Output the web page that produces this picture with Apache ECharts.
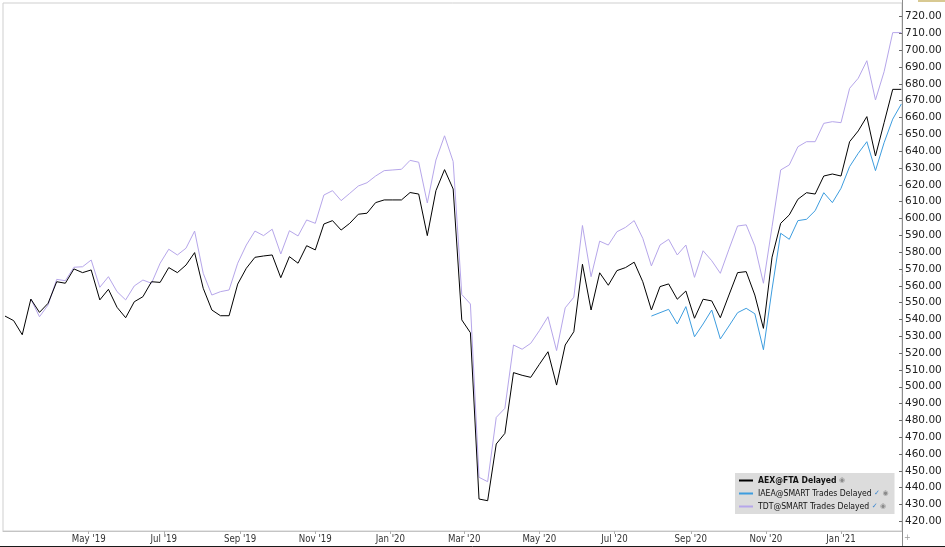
<!DOCTYPE html>
<html>
<head>
<meta charset="utf-8">
<script src="https://cdn.jsdelivr.net/npm/echarts@6/dist/echarts.min.js"></script>
<style>
html,body{margin:0;padding:0;background:#fff;}
#chart{width:945px;height:547px;}
</style>
</head>
<body>
<div id="chart"></div>
<script>
// Weekly closes (Fridays), starting 22 Feb 2019
const startDate = Date.UTC(2019, 1, 22);
const WEEK = 7 * 86400000;

const seriesNames = ['AEX@FTA Delayed', 'IAEA@SMART Trades Delayed', 'TDT@SMART Trades Delayed'];

const aexValues = [
  542.0, 539.3, 530.9, 552.1, 544.2, 549.6, 562.4, 561.5, 570.0, 567.8,
  569.4, 551.6, 557.9, 547.2, 541.0, 550.5, 553.5, 562.4, 562.0, 570.8,
  567.8, 572.3, 579.7, 558.5, 545.6, 542.2, 542.2, 561.0, 570.4, 576.9,
  577.7, 578.3, 564.8, 577.3, 573.4, 583.8, 581.3, 596.7, 598.7, 593.1,
  597.1, 602.5, 603.1, 609.4, 611.0, 611.0, 611.0, 615.4, 614.5, 589.8,
  616.5, 629.0, 617.5, 539.7, 532.1, 433.3, 432.3, 466.0, 472.3, 508.4,
  506.8, 505.6, 513.3, 520.8, 501.0, 524.8, 532.7, 572.8, 545.6, 567.7,
  560.3, 569.0, 570.8, 574.0, 562.4, 545.6, 559.5, 561.1, 552.0, 556.9,
  540.7, 552.0, 551.0, 541.0, 554.5, 567.8, 568.4, 554.5, 534.7, 577.0,
  597.1, 602.1, 611.4, 615.3, 614.5, 625.2, 626.4, 625.2, 645.6, 652.0,
  660.5, 637.1, 656.9, 676.7, 676.7
];

const iaeaValues = [
  null, null, null, null, null, null, null, null, null, null,
  null, null, null, null, null, null, null, null, null, null,
  null, null, null, null, null, null, null, null, null, null,
  null, null, null, null, null, null, null, null, null, null,
  null, null, null, null, null, null, null, null, null, null,
  null, null, null, null, null, null, null, null, null, null,
  null, null, null, null, null, null, null, null, null, null,
  null, null, null, null, null, 542.0, 544.0, 546.0, 537.3, 547.6,
  529.7, 537.3, 545.6, 528.4, 536.1, 544.0, 546.6, 543.4, 522.0, 558.0,
  591.2, 587.6, 598.7, 599.5, 604.6, 615.3, 609.4, 617.9, 630.8, 638.7,
  645.6, 628.4, 645.0, 659.0, 668.0
];

const tdtValues = [
  null, null, null, 552.1, 541.6, 548.6, 563.8, 563.0, 571.0, 571.3,
  575.3, 559.1, 565.4, 556.5, 551.6, 559.9, 563.4, 561.5, 573.4, 581.7,
  578.3, 582.3, 592.5, 567.4, 554.5, 556.5, 557.5, 573.4, 584.2, 592.5,
  589.8, 593.6, 578.9, 592.7, 589.6, 599.1, 597.1, 613.9, 616.5, 610.6,
  614.9, 619.3, 621.2, 625.2, 628.4, 628.8, 629.2, 634.5, 633.4, 609.2,
  634.7, 649.1, 633.8, 554.8, 549.2, 446.2, 443.6, 481.8, 487.2, 524.8,
  522.3, 525.8, 533.3, 541.6, 521.5, 546.9, 553.2, 595.8, 565.4, 586.5,
  584.2, 592.1, 594.7, 598.7, 588.2, 571.8, 584.2, 587.6, 578.3, 584.2,
  565.0, 580.8, 574.9, 567.4, 581.7, 595.5, 596.2, 583.7, 561.5, 595.1,
  628.8, 631.8, 642.6, 645.6, 645.6, 656.5, 657.5, 656.9, 677.3, 683.3,
  693.7, 670.4, 687.2, 710.4, 710.4
];

// Axis tick labels
const yTickValues = [420, 430, 440, 450, 460, 470, 480, 490, 500, 510, 520, 530, 540, 550, 560,
  570, 580, 590, 600, 610, 620, 630, 640, 650, 660, 670, 680, 690, 700, 710, 720];
const xTickDates = [[2019, 4], [2019, 6], [2019, 8], [2019, 10], [2020, 0], [2020, 2],
  [2020, 4], [2020, 6], [2020, 8], [2020, 10], [2021, 0]];
const monthNames = ['Jan','Feb','Mar','Apr','May','Jun','Jul','Aug','Sep','Oct','Nov','Dec'];

const xMin = Date.UTC(2019, 1, 20, 9);
const xMax = Date.UTC(2021, 1, 19, 13);
const yMin = 414.3;
const yMax = 728.0;

function toPairs(vals) {
  return vals.map((v, i) => [startDate + i * WEEK, v]);
}
const xTickValues = xTickDates.map(d => Date.UTC(d[0], d[1], 1));

const chart = echarts.init(document.getElementById('chart'), null, {renderer: 'canvas'});

const option = {
  animation: false,
  backgroundColor: '#ffffff',
  grid: {
    left: 3, right: 43, top: 3, bottom: 16,
    show: true, borderColor: '#cfcfcf', borderWidth: 1, backgroundColor: 'transparent'
  },
  xAxis: {
    type: 'value',
    min: xMin, max: xMax,
    axisLine: {show: true, lineStyle: {color: '#c4c4c4', width: 1}},
    axisTick: {show: true, customValues: xTickValues, length: 3, lineStyle: {color: '#b0b0b0'}},
    axisLabel: {
      customValues: xTickValues,
      margin: 3,
      fontFamily: 'DejaVu Sans Condensed',
      fontSize: 9.6,
      color: '#333',
      formatter: function (v) {
        const d = new Date(v);
        return monthNames[d.getUTCMonth()] + " '" + String(d.getUTCFullYear()).slice(2);
      }
    },
    splitLine: {show: false}
  },
  yAxis: {
    type: 'value',
    position: 'right',
    min: yMin, max: yMax,
    axisLine: {show: false},
    axisTick: {show: true, inside: true, length: 3, customValues: yTickValues, lineStyle: {color: '#666'}},
    axisLabel: {
      customValues: yTickValues,
      margin: 3,
      fontFamily: 'DejaVu Sans',
      fontSize: 10.5,
      color: '#222',
      formatter: function (v) { return v.toFixed(2); }
    },
    splitLine: {show: false}
  },
  legend: {
    orient: 'vertical',
    left: 735, top: 473,
    backgroundColor: '#dcdcdc',
    padding: [3, 6, 3, 4],
    itemGap: 4,
    itemWidth: 14,
    itemHeight: 2,
    icon: 'rect',
    selectedMode: false,
    data: seriesNames,
    textStyle: {
      fontFamily: 'DejaVu Sans Condensed',
      fontSize: 8.6,
      color: '#111',
      rich: {
        b: {fontFamily: 'DejaVu Sans Condensed', fontSize: 8.6, fontWeight: 'bold', color: '#111', lineHeight: 10},
        n: {fontFamily: 'DejaVu Sans Condensed', fontSize: 8.6, color: '#111', lineHeight: 10},
        c: {fontFamily: 'DejaVu Sans', fontSize: 7, color: '#3a86d0', lineHeight: 10},
        g: {fontFamily: 'DejaVu Sans', fontSize: 7, color: '#8a8a8a', lineHeight: 10}
      }
    },
    formatter: function (name) {
      if (name === seriesNames[0]) return '{b|' + name + '} {g|◉}';
      return '{n|' + name + '} {c|✓} {g|◉}';
    }
  },
  series: [
    {
      name: seriesNames[0], type: 'line', data: toPairs(aexValues),
      symbol: 'none', z: 5, color: '#000000',
      lineStyle: {width: 1, color: '#000000'}
    },
    {
      name: seriesNames[1], type: 'line', data: toPairs(iaeaValues),
      symbol: 'none', z: 4, color: '#3d9ddf',
      lineStyle: {width: 1, color: '#3d9ddf'}
    },
    {
      name: seriesNames[2], type: 'line', data: toPairs(tdtValues),
      symbol: 'none', z: 3, color: '#b6a6ea',
      lineStyle: {width: 1, color: '#b6a6ea'}
    }
  ],
  graphic: [
    {type: 'line', z: 50, shape: {x1: 902.5, y1: 0, x2: 902.5, y2: 547}, style: {stroke: '#8c8c8c', lineWidth: 1}},
    {type: 'line', z: 50, shape: {x1: 0, y1: 546.5, x2: 945, y2: 546.5}, style: {stroke: '#1a1a1a', lineWidth: 1}},
    {type: 'rect', z: 50, shape: {x: 918, y: 0, width: 27, height: 2}, style: {fill: '#d8c992'}},
    {type: 'text', z: 50, left: 904, top: 534, style: {text: '+', fill: '#9a9a9a', font: '8px DejaVu Sans'}}
  ]
};

chart.setOption(option);
</script>
</body>
</html>
